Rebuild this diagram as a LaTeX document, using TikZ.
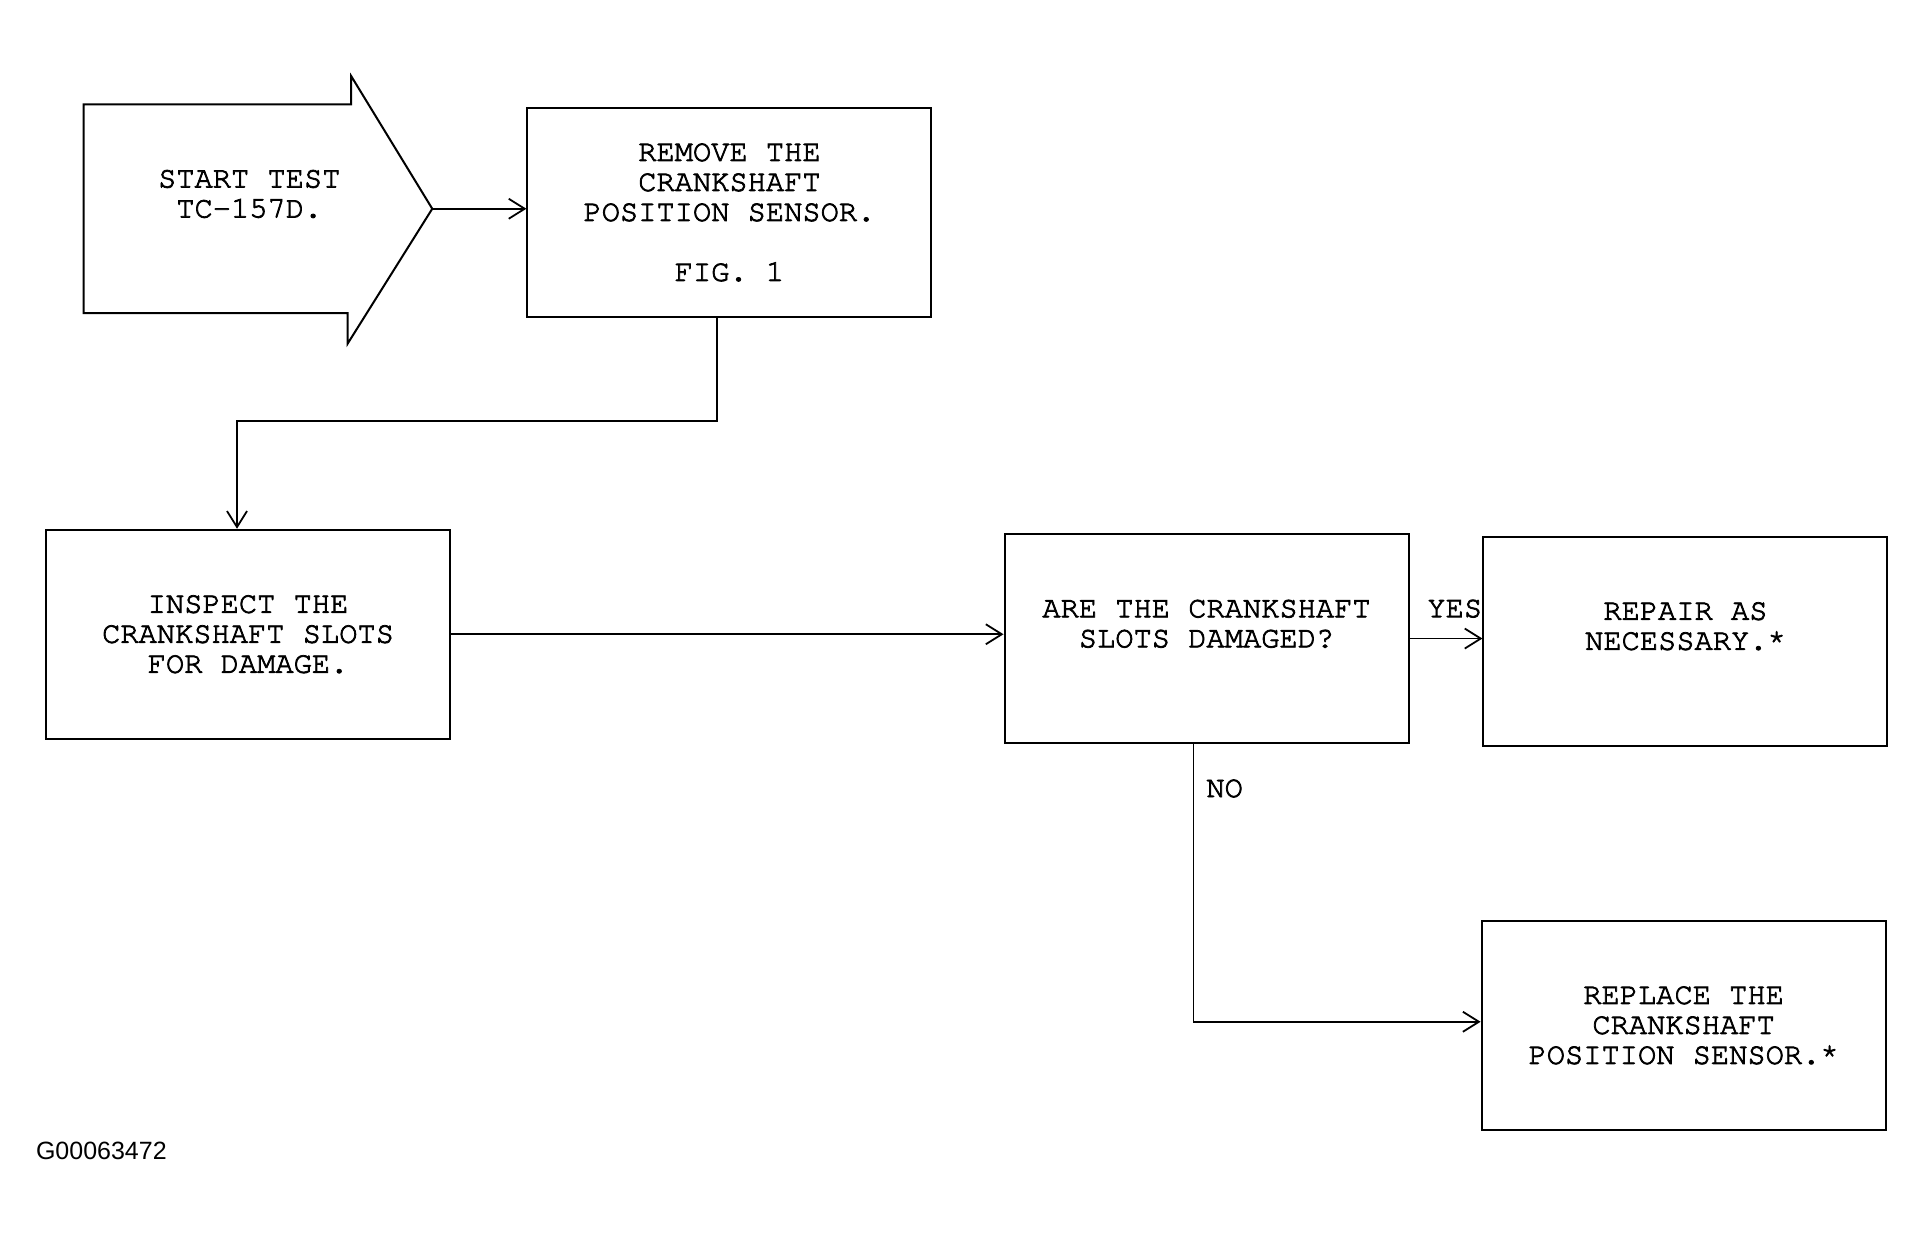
\documentclass[tikz,border=0pt]{standalone}
\usepackage{fontspec}
\setsansfont{Liberation Sans}
\newfontfamily\cursorfont{texgyrecursor-regular.otf}[FakeBold=2.5]
\usetikzlibrary{arrows.meta}

\newcommand{\flowfont}{\cursorfont\fontsize{15.2}{15}\selectfont}

\tikzset{
  stepbox/.style={draw, line width=1pt, minimum width=202pt, minimum height=104.5pt,
    align=center, inner sep=0pt, font=\flowfont},
  flow/.style={line width=0.9pt, -{Straight Barb[length=8pt,width=10pt]}},
  answer/.style={inner sep=0pt, font=\flowfont},
}

\begin{document}
\begin{tikzpicture}[x=0.614pt, y=-0.614pt]
        \useasboundingbox (0pt,0pt) rectangle (962.5pt,-620pt);
        % start arrow
        \draw[line width=1pt] (68,85) -- (286,85) -- (286,62) -- (352,170) -- (283,280) -- (283,255) -- (68,255) -- cycle;
        \node[align=center, inner sep=0pt, font=\flowfont] (start) at (203,170) {START TEST\\TC-157D.\\\mbox{}};
        \coordinate (tip) at (352,170);
        % steps
        \node[stepbox] (remove) at (594,173) {REMOVE THE\\CRANKSHAFT\\POSITION SENSOR.\\\mbox{}\\FIG. 1};
        \node[stepbox] (inspect) at (202,516.5) {INSPECT THE\\CRANKSHAFT SLOTS\\FOR DAMAGE.};
        \node[stepbox] (damaged) at (982.5,520) {ARE THE CRANKSHAFT\\SLOTS DAMAGED?\\\mbox{}};
        \node[stepbox] (repair) at (1372.5,522) {REPAIR AS\\NECESSARY.*\\\mbox{}};
        \node[stepbox] (replace) at (1371,835) {REPLACE THE\\CRANKSHAFT\\POSITION SENSOR.*};
        \coordinate (bend) at (193,343);
        % connectors
        \draw[flow] (tip) -- (tip -| remove.west);
        \draw[flow] ([xshift=-6.2pt]remove.south) |- (bend) -- (bend |- inspect.north);
        \draw[flow] (inspect.east) -- (inspect.east -| damaged.west);
        \draw[flow] (damaged.east) -- (damaged.east -| repair.west) node[answer, pos=0.62, above=10pt] {YES};
        \draw[flow] ([xshift=-6.5pt]damaged.south) |- ([yshift=1.8pt]replace.west) node[answer, pos=0.08, right=6pt] {NO};
        \node[anchor=west, inner sep=0pt, font=\sffamily\fontsize{12.5}{15}\selectfont] (figno) at (29,937) {G00063472};
\end{tikzpicture}
\end{document}
